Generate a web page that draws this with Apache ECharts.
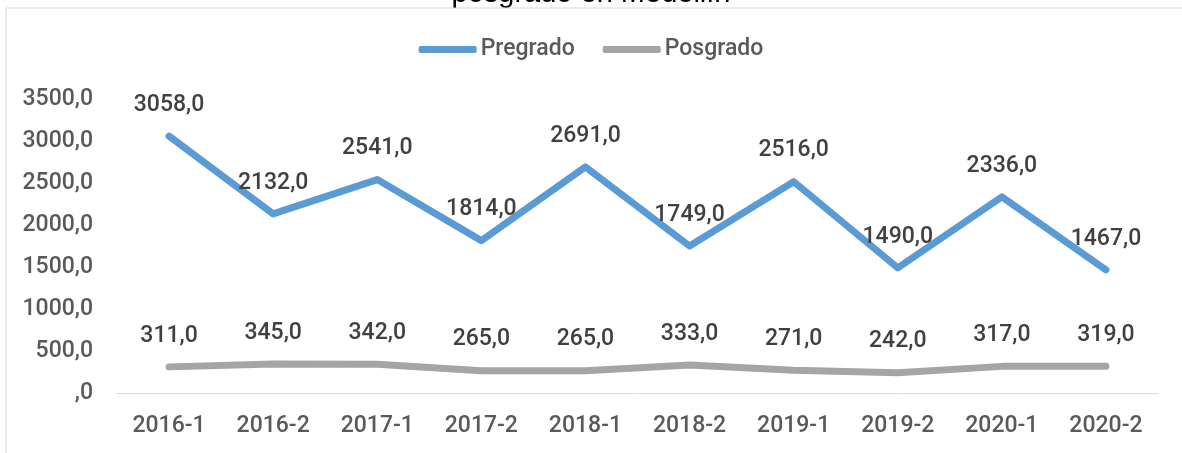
<!DOCTYPE html>
<html>
<head>
<meta charset="utf-8">
<script src="https://cdn.jsdelivr.net/npm/echarts@6/dist/echarts.min.js"></script>
<style>
  html, body { margin: 0; padding: 0; background: #fff; }
  #chart { width: 1182px; height: 453px; }
</style>
</head>
<body>
<div id="chart"></div>
<script>
var periods = ['2016-1', '2016-2', '2017-1', '2017-2', '2018-1', '2018-2', '2019-1', '2019-2', '2020-1', '2020-2'];
var pregrado = [3058, 2132, 2541, 1814, 2691, 1749, 2516, 1490, 2336, 1467];
var posgrado = [311, 345, 342, 265, 265, 333, 271, 242, 317, 319];
var yTicks = { min: 0, max: 3500, interval: 500 };

var font = 'Roboto';

// numeros con coma decimal, el cero sale como ",0"
function fmt(v) {
    if (v === 0) return ',0';
    return v.toFixed(1).replace('.', ',');
}

function lineSeries(name, data, color) {
    return {
        name: name,
        type: 'line',
        data: data,
        symbol: 'circle',
        symbolSize: 1,
        lineStyle: { color: color, width: 7, cap: 'round', join: 'round' },
        itemStyle: { color: color },
        label: {
            show: true,
            position: 'top',
            distance: 19,
            color: '#404040',
            fontFamily: font,
            fontWeight: 500,
            fontSize: 23,
            formatter: function (p) { return fmt(p.value); }
        }
    };
}

var chart = echarts.init(document.getElementById('chart'));
chart.setOption({
    animation: false,
    title: {
        text: 'posgrado en Medellín',
        left: 'center',
        top: -26,
        z: 0,
        textStyle: { fontFamily: 'Liberation Sans', fontWeight: 'normal', fontSize: 29, color: '#000' }
    },
    graphic: [
        { type: 'rect', z: 10, shape: { x: 0, y: 8, width: 1182, height: 30 }, style: { fill: '#fff' } },
        { type: 'line', z: 11, shape: { x1: 6, y1: 8, x2: 1182, y2: 8 }, style: { stroke: '#d9d9d9', lineWidth: 1 } },
        { type: 'line', z: 11, shape: { x1: 6, y1: 8, x2: 6, y2: 453 }, style: { stroke: '#d9d9d9', lineWidth: 1 } }
    ],
    legend: {
        top: 33,
        left: 'center',
        icon: 'roundRect',
        itemWidth: 58,
        itemHeight: 7,
        itemGap: 28,
        z: 20,
        textStyle: { fontFamily: font, fontWeight: 500, fontSize: 23, color: '#595959', padding: [0, 0, 0, -1] },
        data: ['Pregrado', 'Posgrado']
    },
    grid: { left: 117, right: 24, top: 99, bottom: 60 },
    xAxis: {
        type: 'category',
        data: periods,
        axisLine: { lineStyle: { color: '#d9d9d9', width: 1 } },
        axisTick: { show: false },
        axisLabel: { margin: 22, color: '#595959', fontFamily: font, fontWeight: 500, fontSize: 23 }
    },
    yAxis: {
        type: 'value',
        min: yTicks.min,
        max: yTicks.max,
        interval: yTicks.interval,
        splitLine: { show: false },
        axisLine: { show: false },
        axisTick: { show: false },
        axisLabel: { margin: 24, color: '#595959', fontFamily: font, fontWeight: 500, fontSize: 23, formatter: fmt }
    },
    series: [
        lineSeries('Pregrado', pregrado, '#5b9bd5'),
        lineSeries('Posgrado', posgrado, '#a5a5a5')
    ]
});
</script>
</body>
</html>
